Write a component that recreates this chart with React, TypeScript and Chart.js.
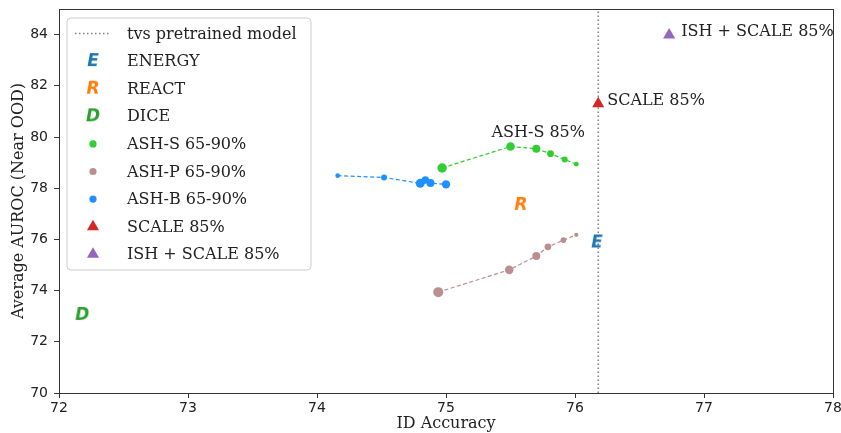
import React, { useEffect, useRef } from "react";
import { Chart, registerables } from "chart.js";
Chart.register(...registerables);

const xTicks = [72, 73, 74, 75, 76, 77, 78];
const yTicks = [70, 72, 74, 76, 78, 80, 82, 84];

const pretrainedAcc = 76.18;

const energyAcc = 76.17;
const energyAuroc = 75.88;
const reactAcc = 75.58;
const reactAuroc = 77.35;
const diceAcc = 72.18;
const diceAuroc = 73.05;

const ashSAcc = [74.97, 75.5, 75.7, 75.81, 75.92, 76.01];
const ashSAuroc = [78.79, 79.63, 79.54, 79.35, 79.12, 78.94];
const ashPAcc = [74.94, 75.49, 75.7, 75.79, 75.91, 76.01];
const ashPAuroc = [73.94, 74.81, 75.35, 75.71, 75.97, 76.18];
const ashBAcc = [74.16, 74.52, 74.8, 74.84, 74.88, 75.0];
const ashBAuroc = [78.49, 78.42, 78.19, 78.32, 78.2, 78.15];

const scaleAcc = 76.18;
const scaleAuroc = 81.3;
const ishAcc = 76.73;
const ishAuroc = 83.98;

const legendLabels = [
  "tvs pretrained model",
  "ENERGY",
  "REACT",
  "DICE",
  "ASH-S 65-90%",
  "ASH-P 65-90%",
  "ASH-B 65-90%",
  "SCALE 85%",
  "ISH + SCALE 85%",
];

// styles
const ashSRadii = [4.7, 4.3, 4, 3.4, 3, 2.4];
const ashPRadii = [5, 4.3, 4, 3.4, 2.8, 2.1];
const ashBRadii = [2.3, 3, 4.5, 3.7, 4, 4.2];
const SERIF = '"DejaVu Serif", serif';
const SANS = '"DejaVu Sans", sans-serif';

function letterImage(ch: string, color: string): HTMLCanvasElement {
  const c = document.createElement("canvas");
  c.width = 24;
  c.height = 24;
  const g = c.getContext("2d")!;
  g.font = 'bold italic 17px "DejaVu Sans"';
  g.fillStyle = color;
  g.textAlign = "center";
  g.textBaseline = "middle";
  g.fillText(ch, 12, 13);
  return c;
}

const pts = (xs: number[], ys: number[]) => xs.map((x, i) => ({ x, y: ys[i] }));

export default function App() {
  const ref = useRef<HTMLCanvasElement | null>(null);
  useEffect(() => {
    if (!ref.current) return;
    const eImg = letterImage("E", "#1f77b4");
    const rImg = letterImage("R", "#ff7f0e");
    const dImg = letterImage("D", "#2ca02c");

    const overlay = {
      id: "overlay",
      afterDatasetsDraw(chart: any) {
        const { ctx, chartArea: a, scales } = chart;
        const xs = scales.x;
        const ys = scales.y;
        ctx.save();
        // frame
        ctx.strokeStyle = "#333";
        ctx.lineWidth = 1;
        ctx.strokeRect(Math.round(a.left) + 0.5, Math.round(a.top) + 0.5, Math.round(a.right - a.left), Math.round(a.bottom - a.top));
        // annotations
        ctx.fillStyle = "#222";
        ctx.font = "16px " + SERIF;
        ctx.textAlign = "left";
        ctx.textBaseline = "alphabetic";
        ctx.fillText("ASH-S 85%", xs.getPixelForValue(ashSAcc[1]) - 19, ys.getPixelForValue(ashSAuroc[1]) - 9);
        ctx.textBaseline = "middle";
        ctx.fillText("SCALE 85%", xs.getPixelForValue(scaleAcc) + 9, ys.getPixelForValue(scaleAuroc) - 3);
        ctx.fillText("ISH + SCALE 85%", xs.getPixelForValue(ishAcc) + 12, ys.getPixelForValue(ishAuroc) - 3);

        // legend
        const bx = 67, by = 18, bw = 244, bh = 252, r = 4;
        ctx.beginPath();
        ctx.moveTo(bx + r, by);
        ctx.arcTo(bx + bw, by, bx + bw, by + bh, r);
        ctx.arcTo(bx + bw, by + bh, bx, by + bh, r);
        ctx.arcTo(bx, by + bh, bx, by, r);
        ctx.arcTo(bx, by, bx + bw, by, r);
        ctx.closePath();
        ctx.fillStyle = "rgba(255,255,255,0.85)";
        ctx.fill();
        ctx.strokeStyle = "#cccccc";
        ctx.stroke();
        const mx = 93;
        legendLabels.forEach((lab, i) => {
          const y = 33.5 + i * 27.6;
          ctx.save();
          if (i === 0) {
            ctx.strokeStyle = "#808080";
            ctx.lineWidth = 1.5;
            ctx.setLineDash([1.5, 2.5]);
            ctx.beginPath();
            ctx.moveTo(75, y);
            ctx.lineTo(111, y);
            ctx.stroke();
          } else if (i <= 3) {
            const img = [eImg, rImg, dImg][i - 1];
            ctx.drawImage(img, mx - 12, y - 12);
          } else if (i <= 6) {
            ctx.fillStyle = ["#32cd32", "#bc8f8f", "#1e90ff"][i - 4];
            ctx.beginPath();
            ctx.arc(mx, y, 3.6, 0, Math.PI * 2);
            ctx.fill();
          } else {
            ctx.fillStyle = i === 7 ? "#d62728" : "#9467bd";
            const rr = 7;
            ctx.beginPath();
            ctx.moveTo(mx, y - rr);
            ctx.lineTo(mx + rr * 0.866, y + rr * 0.5);
            ctx.lineTo(mx - rr * 0.866, y + rr * 0.5);
            ctx.closePath();
            ctx.fill();
          }
          ctx.restore();
          ctx.fillStyle = "#222";
          ctx.font = "16px " + SERIF;
          ctx.textAlign = "left";
          ctx.textBaseline = "middle";
          ctx.fillText(lab, 127, y + 1);
        });
        ctx.restore();
      },
    };

    const chart = new Chart(ref.current, {
      type: "scatter",
      data: {
        datasets: [
          {
            label: "ISH + SCALE 85%",
            data: [{ x: ishAcc, y: ishAuroc }],
            pointStyle: "triangle",
            pointRadius: 7,
            backgroundColor: "#9467bd",
            borderColor: "#9467bd",
            borderWidth: 0,
          },
          {
            label: "SCALE 85%",
            data: [{ x: scaleAcc, y: scaleAuroc }],
            pointStyle: "triangle",
            pointRadius: 7,
            backgroundColor: "#d62728",
            borderColor: "#d62728",
            borderWidth: 0,
          },
          {
            label: "ASH-B 65-90%",
            type: "line",
            data: pts(ashBAcc, ashBAuroc),
            borderColor: "#1e90ff",
            backgroundColor: "#1e90ff",
            borderWidth: 1.2,
            borderDash: [4, 2.5],
            pointRadius: ashBRadii,
            pointBorderWidth: 0,
            fill: false,
          },
          {
            label: "ASH-P 65-90%",
            type: "line",
            data: pts(ashPAcc, ashPAuroc),
            borderColor: "#bc8f8f",
            backgroundColor: "#bc8f8f",
            borderWidth: 1.2,
            borderDash: [4, 2.5],
            pointRadius: ashPRadii,
            pointBorderWidth: 0,
            fill: false,
          },
          {
            label: "ASH-S 65-90%",
            type: "line",
            data: pts(ashSAcc, ashSAuroc),
            borderColor: "#32cd32",
            backgroundColor: "#32cd32",
            borderWidth: 1.2,
            borderDash: [4, 2.5],
            pointRadius: ashSRadii,
            pointBorderWidth: 0,
            fill: false,
          },
          {
            label: "DICE",
            data: [{ x: diceAcc, y: diceAuroc }],
            pointStyle: dImg,
          },
          {
            label: "REACT",
            data: [{ x: reactAcc, y: reactAuroc }],
            pointStyle: rImg,
          },
          {
            label: "ENERGY",
            data: [{ x: energyAcc, y: energyAuroc }],
            pointStyle: eImg,
          },
          {
            label: "tvs pretrained model",
            type: "line",
            data: [
              { x: pretrainedAcc, y: 70 },
              { x: pretrainedAcc, y: 85 },
            ],
            borderColor: "#808080",
            borderWidth: 1.5,
            borderDash: [1.5, 2.5],
            pointRadius: 0,
            fill: false,
          },
        ],
      } as any,
      options: {
        animation: false,
        responsive: false,
        layout: { padding: { left: 0, right: 8, top: 9, bottom: 0 } },
        plugins: { legend: { display: false }, tooltip: { enabled: false } },
        scales: {
          x: {
            type: "linear",
            min: 72,
            max: 78,
            afterBuildTicks: (ax: any) => {
              ax.ticks = xTicks.map((v) => ({ value: v }));
            },
            afterFit: (s: any) => {
              s.height = 40;
              s.paddingLeft = 0;
              s.paddingRight = 0;
            },
            grid: { display: true, drawOnChartArea: false, drawTicks: true, tickLength: 5, tickColor: "#333" },
            border: { display: false },
            ticks: { padding: 2, color: "#222", font: { family: SANS, size: 14 } },
            title: {
              display: true,
              text: "ID Accuracy",
              color: "#222",
              font: { family: SERIF, size: 16 },
              padding: { top: 0, bottom: 0 },
            },
          },
          y: {
            type: "linear",
            min: 70,
            max: 85,
            afterBuildTicks: (ax: any) => {
              ax.ticks = yTicks.map((v) => ({ value: v }));
            },
            afterFit: (s: any) => {
              s.width = 59;
              s.paddingTop = 0;
              s.paddingBottom = 0;
            },
            grid: { display: true, drawOnChartArea: false, drawTicks: true, tickLength: 5, tickColor: "#333" },
            border: { display: false },
            ticks: { padding: 6, color: "#222", font: { family: SANS, size: 14 } },
            title: {
              display: true,
              text: "Average AUROC (Near OOD)",
              color: "#222",
              font: { family: SERIF, size: 16 },
              padding: { top: 9, bottom: 0 },
            },
          },
        },
      },
      plugins: [overlay],
    } as any);
    return () => chart.destroy();
  }, []);
  return (
    <div style={{ position: "absolute", left: 0, top: 0, width: 841, height: 433, background: "#fff" }}>
      <canvas ref={ref} width={841} height={433} style={{ display: "block" }} />
    </div>
  );
}
